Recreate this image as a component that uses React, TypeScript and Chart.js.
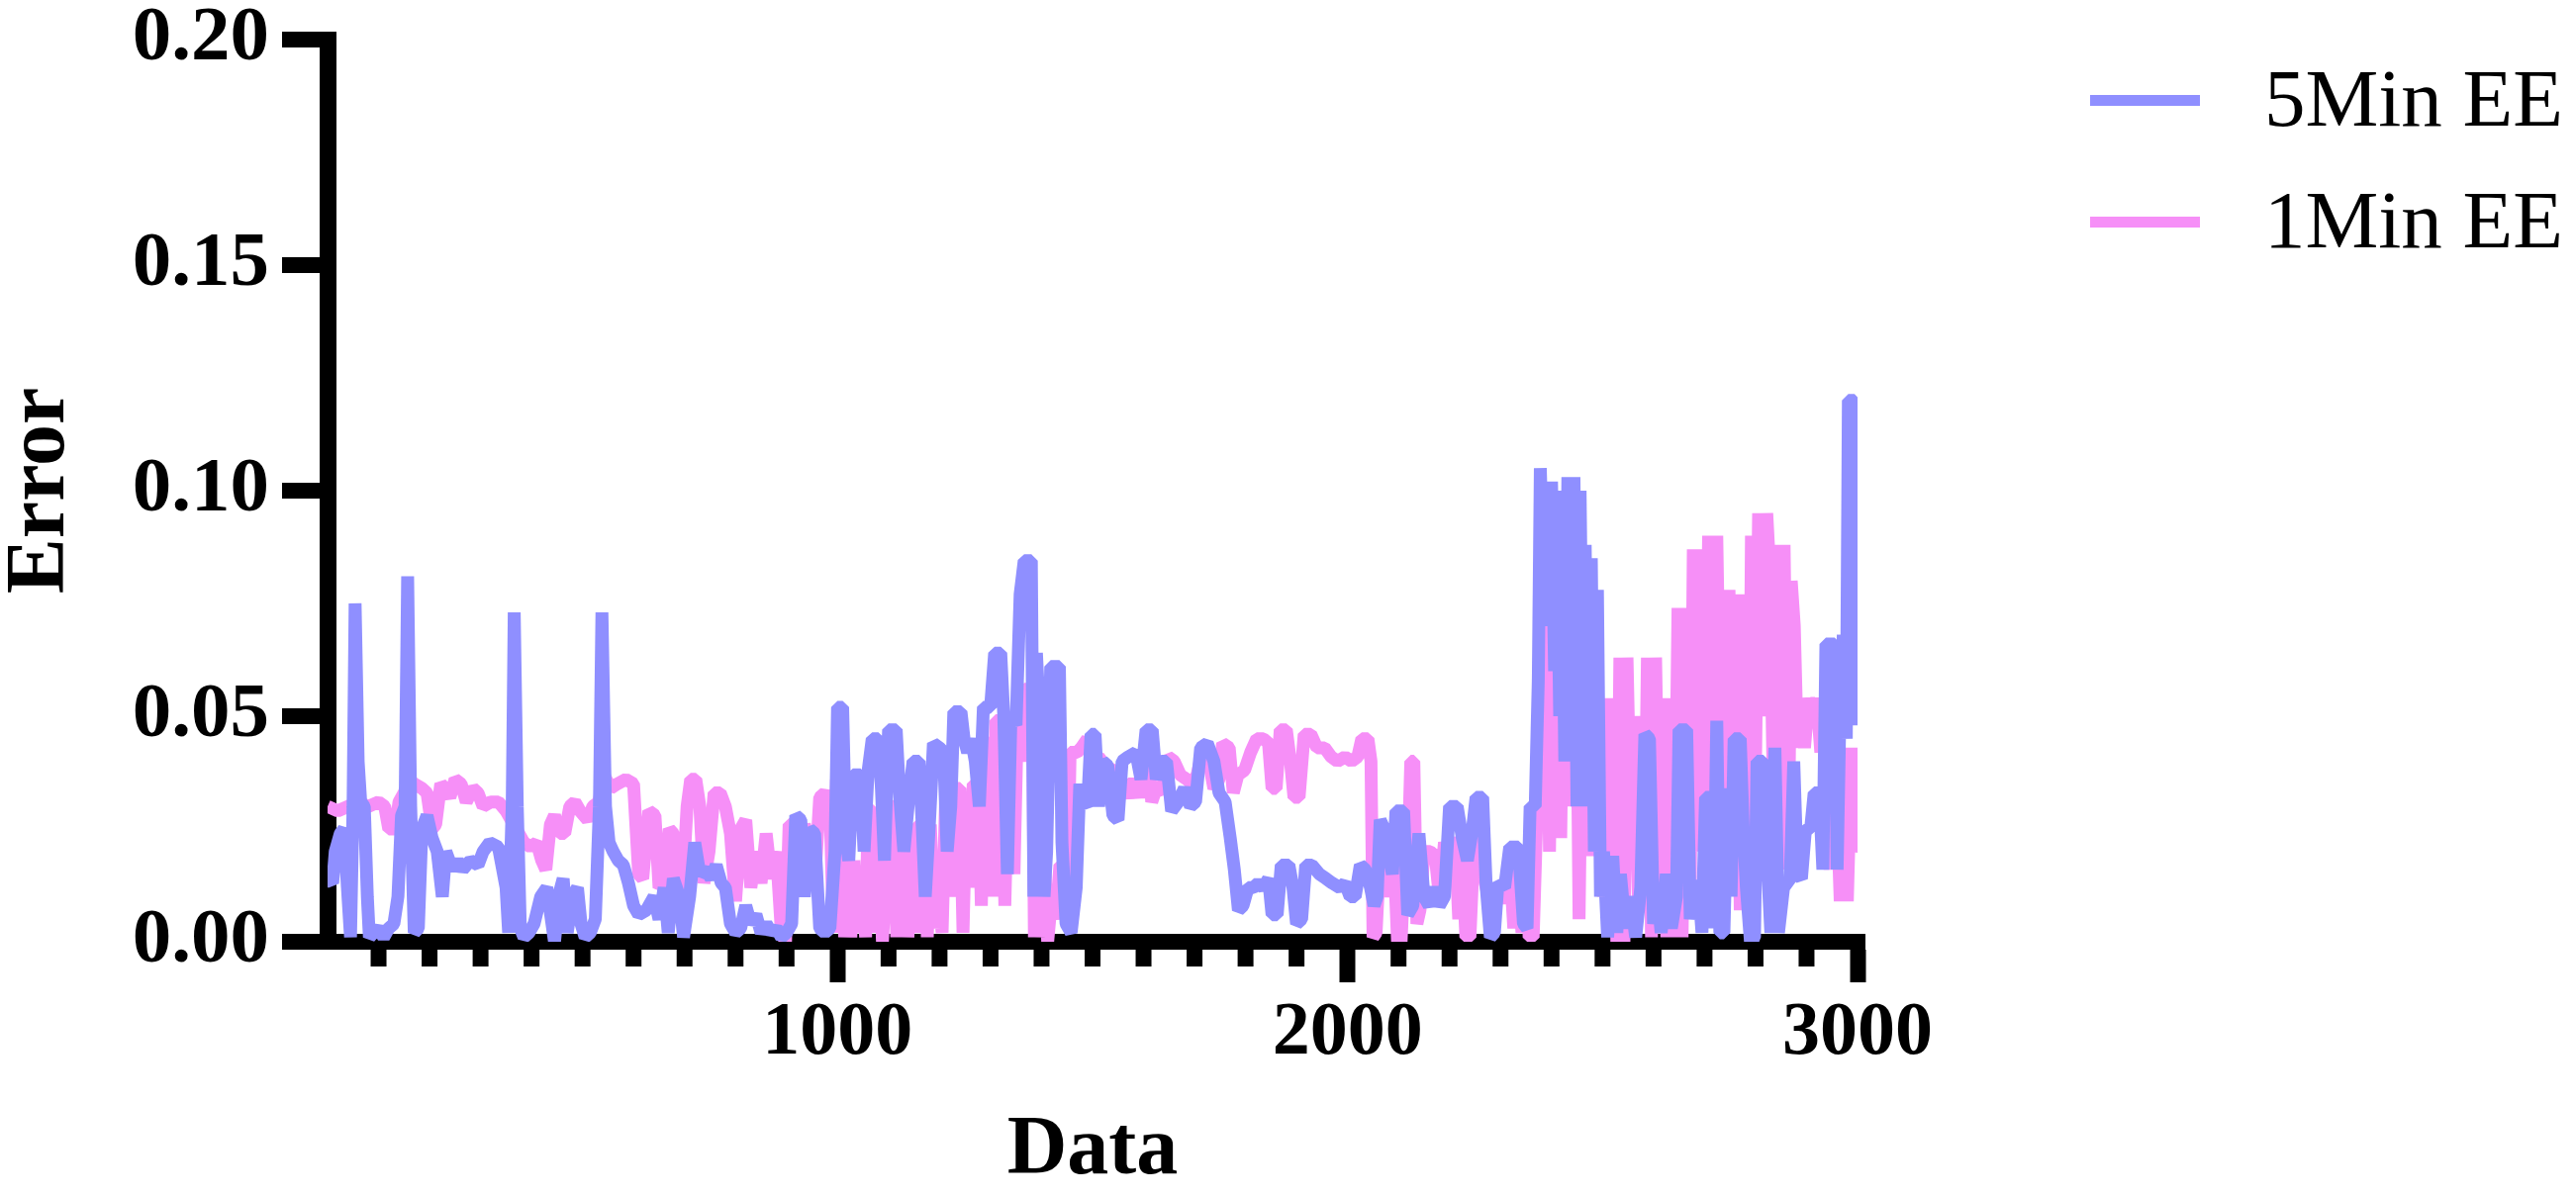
import { useEffect, useRef } from 'react';
import { Chart, registerables } from 'chart.js';

Chart.register(...registerables);

// ---------- data ----------
const fiveMinX = [0,10,15,25,32,40,45,50,54,60,65,72,78,82,90,100,110,120,130,138,145,152,157,163,170,178,185,195,205,215,225,232,245,255,265,280,295,305,318,335,350,355,362,366,372,378,385,395,405,418,430,440,445,455,462,470,480,490,497,505,515,525,533,538,545,552,560,570,580,590,600,610,625,640,650,660,668,678,690,698,710,720,730,742,752,762,772,780,790,800,810,820,830,840,850,860,870,880,890,900,910,918,928,935,945,955,965,975,985,995,1000,1010,1016,1022,1030,1045,1052,1060,1068,1080,1086,1092,1100,1115,1122,1130,1140,1148,1160,1166,1172,1180,1188,1200,1208,1215,1222,1228,1242,1248,1255,1262,1270,1278,1286,1300,1308,1320,1326,1333,1340,1350,1358,1366,1380,1385,1390,1398,1405,1410,1418,1435,1440,1448,1458,1468,1475,1482,1490,1497,1505,1512,1520,1530,1540,1550,1558,1570,1585,1595,1605,1617,1625,1635,1645,1655,1668,1680,1692,1702,1712,1725,1738,1748,1760,1770,1778,1786,1795,1805,1815,1825,1835,1845,1852,1862,1870,1885,1893,1900,1910,1918,1930,1945,1958,1970,1985,1995,2005,2015,2025,2035,2045,2052,2058,2064,2072,2080,2088,2095,2110,2118,2128,2140,2150,2160,2170,2180,2190,2200,2215,2225,2235,2245,2252,2265,2272,2280,2288,2295,2308,2318,2335,2345,2352,2358,2368,2374,2378,2384,2388,2394,2400,2406,2410,2416,2420,2426,2432,2438,2444,2450,2456,2462,2466,2472,2478,2484,2490,2496,2502,2510,2520,2528,2535,2545,2555,2565,2575,2583,2592,2600,2608,2615,2625,2635,2645,2650,2665,2672,2680,2688,2695,2702,2712,2718,2724,2730,2738,2745,2752,2758,2770,2776,2782,2790,2798,2803,2815,2822,2830,2838,2845,2855,2868,2875,2882,2890,2898,2908,2915,2925,2932,2938,2955,2960,2966,2972,2978,2982,2994,2997,3000];
const fiveMinY = [0.014,0.013,0.020,0.024,0.025,0.010,0.001,0.030,0.075,0.040,0.031,0.030,0.010,0.001,0.002,0.003,0.001,0.003,0.004,0.010,0.028,0.030,0.081,0.030,0.002,0.003,0.025,0.028,0.023,0.020,0.010,0.020,0.016,0.018,0.016,0.018,0.017,0.020,0.022,0.021,0.012,0.002,0.030,0.073,0.030,0.003,0.001,0.002,0.004,0.010,0.012,0.004,0.000,0.011,0.014,0.002,0.010,0.012,0.004,0.001,0.002,0.005,0.030,0.073,0.030,0.022,0.020,0.018,0.017,0.013,0.008,0.006,0.007,0.010,0.005,0.012,0.002,0.014,0.010,0.001,0.010,0.022,0.015,0.016,0.014,0.017,0.013,0.012,0.004,0.002,0.003,0.008,0.004,0.006,0.002,0.004,0.002,0.003,0.001,0.002,0.004,0.028,0.027,0.010,0.025,0.024,0.003,0.002,0.003,0.020,0.052,0.052,0.023,0.018,0.037,0.037,0.020,0.038,0.045,0.045,0.034,0.018,0.047,0.047,0.032,0.020,0.032,0.040,0.040,0.026,0.010,0.026,0.044,0.043,0.042,0.020,0.030,0.051,0.051,0.045,0.042,0.045,0.040,0.030,0.052,0.052,0.064,0.064,0.050,0.015,0.050,0.048,0.077,0.0845,0.0845,0.010,0.064,0.045,0.010,0.020,0.061,0.061,0.022,0.004,0.002,0.012,0.035,0.031,0.030,0.046,0.046,0.030,0.040,0.039,0.028,0.027,0.040,0.041,0.042,0.036,0.047,0.047,0.036,0.040,0.040,0.029,0.031,0.034,0.030,0.031,0.043,0.044,0.040,0.033,0.031,0.023,0.016,0.007,0.008,0.012,0.012,0.013,0.012,0.014,0.006,0.006,0.017,0.017,0.012,0.004,0.005,0.017,0.017,0.015,0.014,0.013,0.012,0.013,0.010,0.010,0.017,0.016,0.012,0.008,0.010,0.027,0.025,0.020,0.015,0.029,0.029,0.006,0.008,0.024,0.010,0.008,0.012,0.008,0.010,0.030,0.030,0.023,0.018,0.025,0.032,0.032,0.012,0.001,0.002,0.013,0.012,0.021,0.021,0.004,0.003,0.030,0.030,0.058,0.105,0.080,0.102,0.070,0.102,0.060,0.100,0.050,0.100,0.040,0.103,0.050,0.103,0.030,0.100,0.040,0.088,0.030,0.085,0.020,0.078,0.010,0.020,0.001,0.019,0.002,0.015,0.003,0.010,0.001,0.012,0.046,0.045,0.004,0.010,0.002,0.015,0.003,0.010,0.047,0.047,0.005,0.012,0.013,0.002,0.032,0.032,0.003,0.049,0.002,0.002,0.034,0.010,0.045,0.045,0.025,0.012,0.000,0.001,0.040,0.040,0.020,0.002,0.043,0.002,0.012,0.014,0.040,0.015,0.014,0.025,0.025,0.033,0.033,0.016,0.066,0.066,0.016,0.054,0.068,0.045,0.120,0.120,0.048,0.105];

const oneMinX = [0,20,40,60,80,100,112,120,133,140,150,160,170,185,195,205,212,222,230,240,250,262,272,285,295,305,320,335,350,365,375,385,398,410,420,428,437,445,455,465,475,485,495,510,520,532,542,555,568,585,600,610,618,630,642,650,660,670,678,685,695,705,712,722,730,738,748,758,770,780,790,800,810,820,830,840,850,860,870,880,890,898,905,918,928,935,945,955,965,975,985,992,998,1008,1014,1020,1026,1032,1040,1048,1055,1060,1070,1076,1082,1088,1094,1100,1110,1116,1122,1132,1138,1145,1152,1158,1170,1176,1182,1190,1198,1205,1212,1220,1228,1240,1246,1252,1258,1266,1276,1282,1288,1300,1306,1310,1322,1328,1334,1340,1346,1352,1360,1366,1382,1386,1392,1398,1405,1412,1420,1428,1436,1444,1450,1456,1470,1478,1490,1500,1512,1525,1540,1552,1562,1572,1582,1592,1600,1608,1616,1625,1635,1648,1660,1672,1685,1695,1705,1715,1728,1738,1748,1755,1768,1776,1785,1798,1810,1822,1835,1845,1852,1860,1868,1880,1888,1895,1905,1915,1928,1940,1955,1968,1980,1995,2008,2020,2028,2040,2046,2050,2056,2062,2070,2078,2085,2092,2098,2105,2112,2118,2124,2130,2136,2142,2150,2162,2172,2180,2190,2198,2205,2212,2218,2225,2232,2240,2248,2262,2270,2280,2290,2300,2310,2318,2326,2334,2342,2350,2356,2364,2372,2378,2384,2390,2396,2402,2408,2414,2418,2424,2430,2436,2442,2448,2454,2460,2466,2472,2478,2484,2490,2496,2502,2508,2514,2520,2528,2534,2542,2548,2556,2562,2570,2576,2582,2588,2596,2604,2612,2618,2626,2632,2640,2648,2656,2664,2672,2678,2686,2692,2700,2708,2716,2724,2732,2740,2748,2756,2762,2770,2778,2786,2792,2800,2806,2814,2822,2828,2834,2840,2848,2856,2864,2870,2876,2882,2888,2896,2904,2912,2920,2928,2934,2940,2946,2952,2960,2966,2972,2980,2988,2994,3000];
const oneMinY = [0.030,0.029,0.030,0.031,0.030,0.031,0.030,0.025,0.025,0.031,0.033,0.036,0.035,0.034,0.033,0.025,0.026,0.035,0.034,0.032,0.036,0.035,0.031,0.034,0.033,0.030,0.031,0.031,0.029,0.026,0.024,0.022,0.021,0.022,0.018,0.016,0.026,0.028,0.024,0.024,0.030,0.031,0.029,0.027,0.030,0.031,0.037,0.034,0.035,0.036,0.035,0.015,0.014,0.029,0.028,0.012,0.013,0.025,0.024,0.009,0.010,0.030,0.036,0.036,0.030,0.013,0.020,0.033,0.033,0.030,0.024,0.009,0.025,0.027,0.012,0.020,0.013,0.024,0.014,0.020,0.002,0.000,0.026,0.026,0.012,0.026,0.022,0.013,0.032,0.033,0.031,0.002,0.036,0.036,0.001,0.018,0.001,0.018,0.002,0.015,0.001,0.029,0.029,0.002,0.020,0.000,0.012,0.030,0.030,0.001,0.027,0.027,0.001,0.015,0.002,0.026,0.026,0.001,0.026,0.003,0.012,0.002,0.032,0.010,0.034,0.034,0.002,0.030,0.012,0.035,0.035,0.008,0.044,0.044,0.010,0.049,0.049,0.008,0.036,0.043,0.015,0.046,0.040,0.056,0.056,0.001,0.036,0.001,0.021,0.000,0.010,0.005,0.017,0.017,0.005,0.042,0.042,0.043,0.045,0.040,0.041,0.039,0.038,0.036,0.035,0.032,0.036,0.032,0.038,0.045,0.031,0.034,0.033,0.041,0.040,0.037,0.036,0.035,0.037,0.042,0.040,0.034,0.036,0.044,0.043,0.033,0.037,0.038,0.042,0.045,0.045,0.044,0.034,0.034,0.047,0.047,0.040,0.032,0.032,0.046,0.046,0.043,0.043,0.041,0.040,0.041,0.040,0.041,0.045,0.045,0.040,0.001,0.002,0.016,0.010,0.018,0.020,0.017,0.000,0.000,0.018,0.016,0.040,0.040,0.004,0.007,0.020,0.020,0.019,0.010,0.022,0.019,0.023,0.020,0.005,0.019,0.001,0.001,0.022,0.022,0.013,0.008,0.011,0.009,0.011,0.018,0.003,0.018,0.002,0.020,0.001,0.001,0.031,0.078,0.030,0.078,0.020,0.075,0.040,0.075,0.023,0.076,0.030,0.076,0.030,0.076,0.005,0.060,0.023,0.060,0.019,0.054,0.020,0.054,0.010,0.054,0.020,0.054,0.000,0.063,0.000,0.063,0.020,0.050,0.010,0.050,0.010,0.063,0.001,0.063,0.010,0.054,0.001,0.054,0.001,0.074,0.001,0.074,0.012,0.087,0.020,0.087,0.030,0.090,0.040,0.090,0.034,0.034,0.078,0.015,0.077,0.007,0.077,0.007,0.090,0.040,0.095,0.050,0.095,0.082,0.040,0.088,0.016,0.088,0.016,0.080,0.070,0.043,0.054,0.043,0.054,0.049,0.054,0.042,0.054,0.049,0.016,0.049,0.030,0.009,0.043,0.009,0.043,0.020,0.023];

const seriesLabels = ['5Min EE', '1Min EE'];
const seriesColors = ['#8F8FFF', '#F68FF7'];
const xMajorTicks = [0, 1000, 2000, 3000];
const xMinorTicks = [100,200,300,400,500,600,700,800,900,1100,1200,1300,1400,1500,1600,1700,1800,1900,2100,2200,2300,2400,2500,2600,2700,2800,2900];
const yTicks = [0, 0.05, 0.1, 0.15, 0.2];
const xTitle = 'Data';
const yTitle = 'Error';

const FONT = '"Liberation Serif", "Times New Roman", Times, serif';
const LINE_W = 13;

const minorTickPlugin = {
  id: 'minorTicks',
  beforeDatasetsDraw(chart: any) {
    const xs = chart.scales.x;
    const ctx = chart.ctx;
    ctx.save();
    ctx.strokeStyle = '#000';
    ctx.lineWidth = 16;
    ctx.lineCap = 'butt';
    for (const v of xMinorTicks) {
      const px = xs.getPixelForValue(v);
      ctx.beginPath();
      ctx.moveTo(px, xs.top + 8);
      ctx.lineTo(px, xs.top + 25);
      ctx.stroke();
    }
    ctx.restore();
  },
};

const legendPlugin = {
  id: 'customLegend',
  afterDraw(chart: any) {
    const ctx = chart.ctx;
    ctx.save();
    const rows = [101.5, 224.5];
    chart.data.datasets.forEach((ds: any, i: number) => {
      const y = rows[i];
      ctx.strokeStyle = ds.borderColor;
      ctx.lineWidth = 11;
      ctx.lineCap = 'butt';
      ctx.beginPath();
      ctx.moveTo(2112, y);
      ctx.lineTo(2223, y);
      ctx.stroke();
      ctx.fillStyle = '#000';
      ctx.font = `83px ${FONT}`;
      ctx.textAlign = 'left';
      ctx.textBaseline = 'alphabetic';
      ctx.fillText(ds.label, 2288, y + 25);
    });
    ctx.restore();
  },
};

function buildChart(canvas: HTMLCanvasElement) {
  return new Chart(canvas, {
    type: 'line',
    data: {
      datasets: [
        {
          label: seriesLabels[0],
          data: fiveMinX.map((x, i) => ({ x, y: fiveMinY[i] })),
          borderColor: seriesColors[0],
          backgroundColor: seriesColors[0],
          borderWidth: LINE_W,
          pointRadius: 0,
          pointHoverRadius: 0,
          tension: 0,
          fill: false,
          borderJoinStyle: 'bevel',
          borderCapStyle: 'butt',
        },
        {
          label: seriesLabels[1],
          data: oneMinX.map((x, i) => ({ x, y: oneMinY[i] })),
          borderColor: seriesColors[1],
          backgroundColor: seriesColors[1],
          borderWidth: LINE_W,
          pointRadius: 0,
          pointHoverRadius: 0,
          tension: 0,
          fill: false,
          borderJoinStyle: 'bevel',
          borderCapStyle: 'butt',
        },
      ],
    },
    options: {
      responsive: false,
      maintainAspectRatio: false,
      devicePixelRatio: 1,
      animation: false,
      events: [],
      layout: { padding: { left: 0, top: 40, right: 726, bottom: 0 } },
      plugins: {
        legend: { display: false },
        tooltip: { enabled: false },
      },
      scales: {
        x: {
          type: 'linear',
          min: 0,
          max: 3000,
          afterBuildTicks: (s: any) => {
            s.ticks = xMajorTicks.map((v) => ({ value: v }));
          },
          afterFit: (s: any) => {
            s.height = 257;
            s.paddingLeft = 0;
            s.paddingRight = 0;
          },
          grid: {
            drawOnChartArea: false,
            drawTicks: true,
            tickLength: 41,
            tickWidth: 16,
            lineWidth: 15,
            tickColor: (c: any) => (c.tick && c.tick.value === 0 ? 'rgba(0,0,0,0)' : '#000'),
          },
          border: { display: true, color: '#000', width: 16 },
          ticks: {
            color: '#000',
            font: { family: FONT, size: 76, weight: 'bold', lineHeight: 1 },
            padding: 14,
            maxRotation: 0,
            minRotation: 0,
            autoSkip: false,
            callback: (v: any) => (Number(v) === 0 ? '' : String(v)),
          },
          title: {
            display: true,
            text: xTitle,
            color: '#000',
            font: { family: FONT, size: 84, weight: 'bold', lineHeight: 1 },
            padding: { top: 0, bottom: 3 },
          },
        },
        y: {
          type: 'linear',
          min: 0,
          max: 0.2,
          afterBuildTicks: (s: any) => {
            s.ticks = yTicks.map((v) => ({ value: v }));
          },
          afterFit: (s: any) => {
            s.width = 331;
            s.paddingTop = 0;
            s.paddingBottom = 0;
          },
          grid: {
            drawOnChartArea: false,
            drawTicks: true,
            tickLength: 46,
            tickWidth: 16,
            lineWidth: 16,
            tickColor: '#000',
          },
          border: { display: true, color: '#000', width: 17 },
          ticks: {
            color: '#000',
            font: { family: FONT, size: 79, weight: 'bold', lineHeight: 1 },
            padding: 13,
            callback: (v: any) => Number(v).toFixed(2),
          },
          title: {
            display: true,
            text: yTitle,
            color: '#000',
            font: { family: FONT, size: 84, weight: 'bold', lineHeight: 1 },
            padding: { top: 0, bottom: 0 },
          },
        },
      },
    } as any,
    plugins: [minorTickPlugin, legendPlugin],
  });
}

export default function App() {
  const canvasRef = useRef<HTMLCanvasElement | null>(null);

  useEffect(() => {
    let chart: Chart | null = null;
    let cancelled = false;
    const fonts: any = (document as any).fonts;
    const ready = fonts
      ? Promise.all([
          fonts.load(`80px "Liberation Serif"`),
          fonts.load(`bold 80px "Liberation Serif"`),
        ]).catch(() => null)
      : Promise.resolve(null);
    ready.then(() => {
      if (cancelled || !canvasRef.current) return;
      chart = buildChart(canvasRef.current);
    });
    return () => {
      cancelled = true;
      if (chart) chart.destroy();
    };
  }, []);

  return (
    <div style={{ position: 'fixed', left: 0, top: 0, width: '2603px', height: '1209px', background: '#fff' }}>
      <canvas
        ref={canvasRef}
        width={2603}
        height={1209}
        style={{ width: '2603px', height: '1209px', display: 'block' }}
      />
    </div>
  );
}
